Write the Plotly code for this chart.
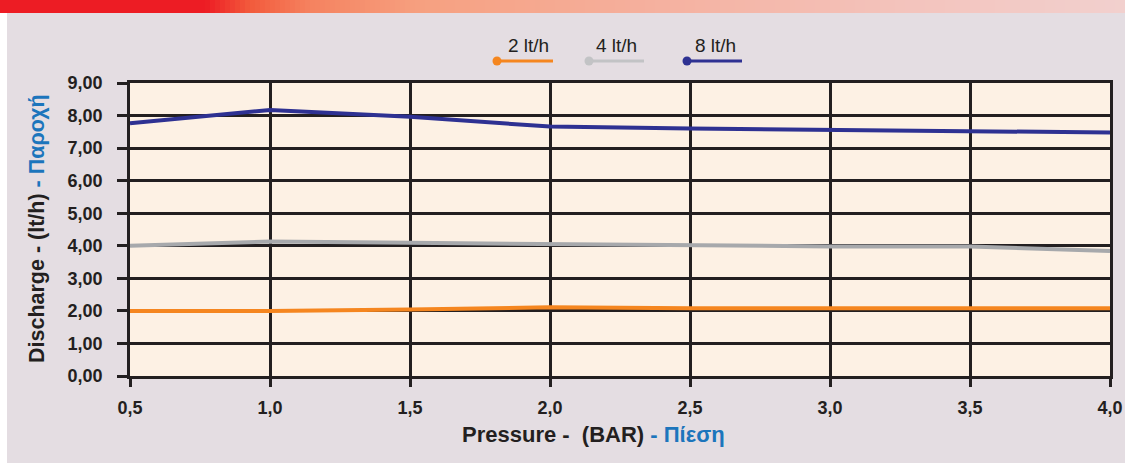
import plotly.graph_objects as go

# ---- data ----
pressure = [0.5, 1.0, 1.5, 2.0, 2.5, 3.0, 3.5, 4.0]
flow_2 = [2.00, 2.00, 2.04, 2.11, 2.08, 2.08, 2.08, 2.08]
flow_4 = [4.00, 4.13, 4.09, 4.05, 4.00, 3.98, 3.98, 3.84]
flow_8 = [7.76, 8.17, 7.96, 7.66, 7.60, 7.56, 7.52, 7.48]
series_names = ["2 lt/h", "4 lt/h", "8 lt/h"]
x_ticks = [0.5, 1.0, 1.5, 2.0, 2.5, 3.0, 3.5, 4.0]
y_ticks = [0, 1, 2, 3, 4, 5, 6, 7, 8, 9]
x_title = "<b>Pressure -  (BAR) <span style='color:#1C75BC'>- Πίεση</span></b>"
y_title = "<b>Discharge - (lt/h) <span style='color:#1C75BC'>- Παροχή</span></b>"

W, H = 1125, 463
L, R, T, B = 130, 1110, 83, 376  # plot area in px

line_colors = ["#F5861F", "#A7A9AC", "#2E3192"]
legend_colors = ["#F5861F", "#C2C3C5", "#2E3192"]
ink = "#231F20"
FONT = "Liberation Sans, Arial, Helvetica, sans-serif"

fig = go.Figure()
for name, ys, c in zip(series_names, [flow_2, flow_4, flow_8], line_colors):
    fig.add_trace(go.Scatter(x=pressure, y=ys, mode="lines", name=name,
                             line=dict(color=c, width=4), showlegend=False))


def px_x(p):
    return (p - L) / (R - L)


def px_y(p):
    return (B - p) / (B - T)


shapes = []
# white strip at left edge
shapes.append(dict(type="rect", xref="paper", yref="paper", x0=px_x(-5), x1=px_x(7),
                   y0=px_y(470), y1=px_y(-5), fillcolor="white", line=dict(width=0), layer="below"))

# banner gradient
stops = [(0, (237, 28, 36)), (205, (237, 28, 36)), (250, (242, 90, 60)), (310, (245, 130, 95)),
         (420, (246, 160, 128)), (650, (245, 176, 158)), (900, (243, 195, 188)), (1125, (242, 208, 206))]


def col_at(x):
    for (xa, ca), (xb, cb) in zip(stops[:-1], stops[1:]):
        if xa <= x <= xb:
            t = 0 if xb == xa else (x - xa) / (xb - xa)
            return "rgb(%d,%d,%d)" % tuple(round(a + (b - a) * t) for a, b in zip(ca, cb))
    return "rgb(242,208,206)"


step = 5
for x0 in range(0, W, step):
    shapes.append(dict(type="rect", xref="paper", yref="paper", x0=px_x(x0), x1=px_x(x0 + step + 0.5),
                       y0=px_y(13), y1=px_y(-2), fillcolor=col_at(x0 + step / 2),
                       line=dict(width=0), layer="below"))

annotations = []
# custom legend: label above a line with a dot at its left end
leg = [(497, 553, 528), (589, 644, 616), (687, 742, 715)]
for (xs, xe, xt), name, c in zip(leg, series_names, legend_colors):
    shapes.append(dict(type="line", xref="paper", yref="paper", x0=px_x(xs), x1=px_x(xe),
                       y0=px_y(61), y1=px_y(61), line=dict(color=c, width=3)))
    shapes.append(dict(type="circle", xref="paper", yref="paper", x0=px_x(xs - 4.5), x1=px_x(xs + 4.5),
                       y0=px_y(65.5), y1=px_y(56.5), fillcolor=c, line=dict(width=0)))
    annotations.append(dict(text=name, xref="paper", yref="paper", x=px_x(xt), y=px_y(45),
                            showarrow=False, xanchor="center", yanchor="middle",
                            font=dict(family=FONT, size=19, color=ink)))

# axis titles
annotations.append(dict(text=x_title, xref="paper", yref="paper", x=px_x(593), y=px_y(434),
                        showarrow=False, xanchor="center", yanchor="middle",
                        font=dict(family=FONT, size=22, color=ink)))
annotations.append(dict(text=y_title, xref="paper", yref="paper", x=px_x(37), y=px_y(229),
                        showarrow=False, xanchor="center", yanchor="middle", textangle=-90,
                        font=dict(family=FONT, size=21.5, color=ink)))

tickfont = dict(size=18, color=ink, family=FONT, weight="bold")
fig.update_layout(
    template="none",
    width=W, height=H,
    autosize=False,
    margin=dict(l=L, r=W - R, t=T, b=H - B, pad=0, autoexpand=False),
    paper_bgcolor="#E4DDE2",
    plot_bgcolor="#FDF1E4",
    separators=",.",
    showlegend=False,
    shapes=shapes,
    annotations=annotations,
    font=dict(family=FONT, color=ink),
    xaxis=dict(range=[0.5, 4.0], tickvals=x_ticks, tickformat=".1f", automargin=False,
               showgrid=True, gridcolor=ink, gridwidth=2.5,
               showline=True, linecolor=ink, linewidth=2.5, mirror=True,
               ticks="outside", ticklen=8, tickwidth=2.5, tickcolor=ink,
               ticklabelstandoff=6, zeroline=False, tickfont=tickfont),
    yaxis=dict(range=[0, 9], tickvals=y_ticks, tickformat=".2f", automargin=False,
               showgrid=True, gridcolor=ink, gridwidth=2.5,
               showline=True, linecolor=ink, linewidth=2.5, mirror=True,
               ticks="outside", ticklen=10, tickwidth=2.5, tickcolor=ink,
               ticklabelstandoff=11, zeroline=False, tickfont=tickfont),
)

fig.write_html("out.html",
               config={"responsive": False, "displayModeBar": False},
               post_script="document.body.style.margin='0';document.body.style.padding='0';"
                           "document.body.style.overflow='hidden';"
                           "Plotly.relayout(document.getElementById('{plot_id}'), {width: 1125, height: 463});")
